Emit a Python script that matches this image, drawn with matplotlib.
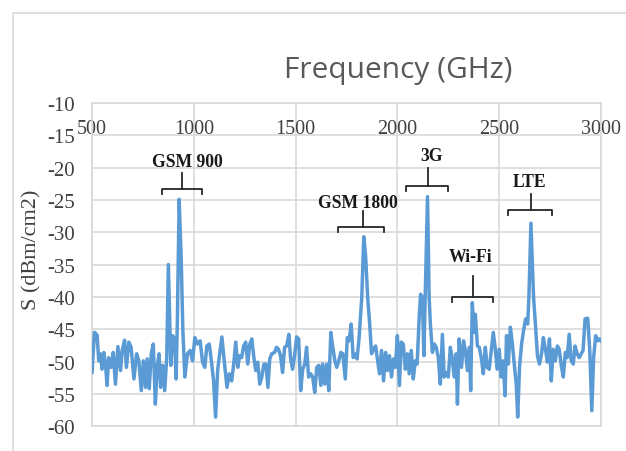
import numpy as np
import matplotlib
matplotlib.use('Agg')
import matplotlib.pyplot as plt
from matplotlib.patches import Rectangle

plt.rcParams['axes.unicode_minus'] = False

# spectrum (MHz, dBm/cm2)
freq = [500, 512, 525, 533, 541, 549, 558, 566, 574, 582, 594, 604, 615, 627, 640, 648,
        660, 669, 681, 692, 706, 719, 730, 742, 752, 763, 771, 781, 791, 801, 811, 821,
        829, 837, 847, 857, 867, 875, 887, 896, 906, 913, 919, 928, 938, 946, 956, 969,
        982, 994, 1005, 1018, 1031, 1043, 1054, 1064, 1076, 1087, 1097, 1107, 1117, 1127,
        1138, 1150, 1163, 1174, 1186, 1196, 1206, 1216, 1225, 1235, 1245, 1255, 1265, 1275,
        1285, 1295, 1304, 1314, 1324, 1334, 1344, 1354, 1364, 1373, 1383, 1397, 1406, 1416,
        1426, 1436, 1446, 1456, 1467, 1475, 1485, 1495, 1505, 1515, 1525, 1535, 1545, 1554,
        1564, 1574, 1584, 1594, 1604, 1614, 1624, 1633, 1643, 1653, 1663, 1673, 1683, 1693,
        1702, 1712, 1722, 1732, 1744, 1754, 1763, 1773, 1783, 1792, 1802, 1812, 1825, 1835,
        1844, 1854, 1864, 1873, 1883, 1893, 1903, 1912, 1922, 1932, 1942, 1951, 1961, 1971,
        1981, 1990, 2000, 2010, 2019, 2029, 2039, 2049, 2058, 2068, 2078, 2088, 2097, 2107,
        2114, 2123, 2130, 2148, 2156, 2162, 2172, 2182, 2191, 2201, 2211, 2221, 2230, 2240,
        2250, 2260, 2269, 2279, 2289, 2295, 2303, 2315, 2325, 2334, 2344, 2354, 2360, 2368,
        2377, 2383, 2393, 2402, 2412, 2422, 2432, 2441, 2451, 2461, 2471, 2480, 2490, 2500,
        2510, 2519, 2529, 2536, 2545, 2555, 2565, 2574, 2584, 2591, 2600, 2610, 2620, 2630,
        2640, 2646, 2656, 2669, 2678, 2688, 2698, 2708, 2717, 2727, 2737, 2747, 2756, 2766,
        2776, 2786, 2795, 2805, 2815, 2825, 2834, 2844, 2854, 2864, 2873, 2883, 2893, 2903,
        2912, 2922, 2935, 2945, 2955, 2964, 2974, 2984, 2993, 3000]
power = [-51.7, -45.5, -45.9, -49.9, -48.8, -51.2, -48.6, -50.4, -53.7, -49.4, -50.9, -48.6,
         -53.5, -47.7, -51.4, -48.3, -46.7, -50.9, -47.0, -47.8, -52.7, -48.8, -49.9, -54.5,
         -49.9, -54.0, -49.6, -54.2, -48.8, -47.3, -56.6, -50.6, -48.8, -54.0, -50.6, -54.5,
         -49.4, -35.0, -50.6, -46.0, -46.5, -52.7, -44.0, -24.9, -34.0, -45.0, -52.4, -48.8,
         -48.3, -49.9, -46.3, -47.3, -46.8, -50.1, -50.9, -47.6, -47.3, -50.1, -53.0, -58.6,
         -51.4, -48.8, -46.2, -50.1, -54.0, -51.9, -53.0, -50.4, -47.0, -50.9, -49.1, -49.4,
         -47.6, -47.0, -50.4, -47.3, -46.5, -49.4, -51.4, -50.1, -53.5, -52.4, -50.4, -50.4,
         -54.0, -49.6, -48.8, -48.6, -47.8, -48.1, -49.1, -51.7, -47.8, -47.6, -45.8, -49.4,
         -51.2, -49.1, -46.2, -46.5, -54.5, -51.2, -50.4, -47.8, -52.4, -51.9, -52.4, -54.8,
         -50.9, -50.6, -53.7, -50.4, -53.5, -50.4, -54.5, -45.5, -47.8, -49.9, -50.9, -49.9,
         -48.6, -48.8, -52.7, -46.3, -46.8, -44.2, -49.4, -48.8, -49.6, -46.3, -40.1, -30.7,
         -33.7, -40.1, -44.2, -48.8, -48.1, -47.6, -49.9, -51.9, -48.3, -53.0, -48.6, -51.4,
         -49.1, -52.4, -49.6, -50.9, -46.0, -53.7, -47.0, -47.3, -51.2, -48.8, -51.9, -48.3,
         -52.7, -49.9, -50.4, -43.2, -39.6, -40.1, -49.1, -24.5, -40.0, -44.2, -48.6, -47.3,
         -47.8, -49.4, -53.5, -45.8, -52.4, -51.7, -52.4, -47.8, -49.4, -52.4, -48.8, -56.6,
         -46.5, -50.9, -46.8, -48.3, -51.4, -47.8, -54.5, -40.9, -45.5, -42.7, -47.6, -47.8,
         -49.4, -51.9, -47.8, -50.9, -51.2, -48.3, -45.5, -47.8, -51.2, -48.1, -52.4, -49.9,
         -55.3, -46.0, -50.4, -44.7, -47.3, -50.4, -53.5, -58.6, -50.9, -47.3, -45.2, -43.4,
         -44.2, -40.1, -28.6, -40.1, -44.2, -49.1, -50.4, -48.8, -46.3, -48.1, -50.1, -46.5,
         -53.0, -48.1, -49.9, -47.6, -48.1, -50.6, -52.4, -48.6, -49.4, -45.8, -49.9, -50.4,
         -47.6, -48.8, -49.4, -48.8, -48.3, -43.4, -43.3, -48.3, -57.6, -49.4, -46.0, -46.8,
         -46.5, -46.8]

xticks = [500, 1000, 1500, 2000, 2500, 3000]
yticks = [-10, -15, -20, -25, -30, -35, -40, -45, -50, -55, -60]

bands = ['GSM 900', 'GSM 1800', '3G', 'Wi-Fi', 'LTE']
# bracket left, right, stem x, bracket y, stem top
br_left = [844, 1708, 2042, 2268, 2543]
br_right = [1040, 1934, 2248, 2470, 2759]
br_stem = [942, 1831, 2150, 2371, 2656]
br_y = [-23.3, -29.2, -22.8, -40.0, -26.6]
br_top = [-20.9, -26.7, -20.1, -36.8, -24.1]
lab_x = [966, 1806, 2170, 2361, 2651]
lab_y = [-19.0, -25.4, -18.2, -33.8, -22.1]

fig = plt.figure(figsize=(6.26, 4.52), dpi=100)
ax = fig.add_axes([0.147, 0.055, 0.813, 0.715])

ax.plot(freq, power, color='#5B9BD5', lw=2.5, zorder=3)

ax.set_xlim(500, 3000)
ax.set_ylim(-60, -10)
ax.set_xticks(xticks)
ax.set_yticks(yticks)
ax.grid(True, color='#D9D9D9', lw=1.2)
ax.set_axisbelow(True)
for s in ax.spines.values():
    s.set_color('#D9D9D9')
    s.set_linewidth(1.2)

ax.xaxis.tick_top()
ax.tick_params(axis='x', length=0, pad=-25, labelsize=14.5)
ax.tick_params(axis='y', length=0, pad=12, labelsize=15)
for t in ax.get_xticklabels() + ax.get_yticklabels():
    t.set_family('Liberation Serif')
    t.set_color('#404040')

ax.set_ylabel('S (dBm/cm2)', family='Liberation Serif', fontsize=16, color='#404040')
ax.yaxis.set_label_coords(-0.10, 0.55)

for i in range(len(bands)):
    x0, x1, xs, yb, yt = br_left[i], br_right[i], br_stem[i], br_y[i], br_top[i]
    ax.plot([x0, x0, x1, x1], [yb - 0.8, yb, yb, yb - 0.8], color='#262626', lw=1.3, zorder=4)
    ax.plot([xs, xs], [yb, yt], color='#262626', lw=1.3, zorder=4)
    ax.text(lab_x[i], lab_y[i], bands[i], ha='center', va='center', fontsize=12.7,
            family='Liberation Serif', weight='bold', color='#1a1a1a', zorder=5)

fig.text(0.636, 0.845, 'Frequency (GHz)', ha='center', va='center', fontsize=21.5,
         family='Open Sans', color='#595959')

fig.patches.append(Rectangle((13 / 626, -0.1), 1.2, (452 - 14) / 452 + 0.1,
                             transform=fig.transFigure, fill=False,
                             edgecolor='#D9D9D9', lw=1.2))

fig.savefig('out.png', dpi=100)
